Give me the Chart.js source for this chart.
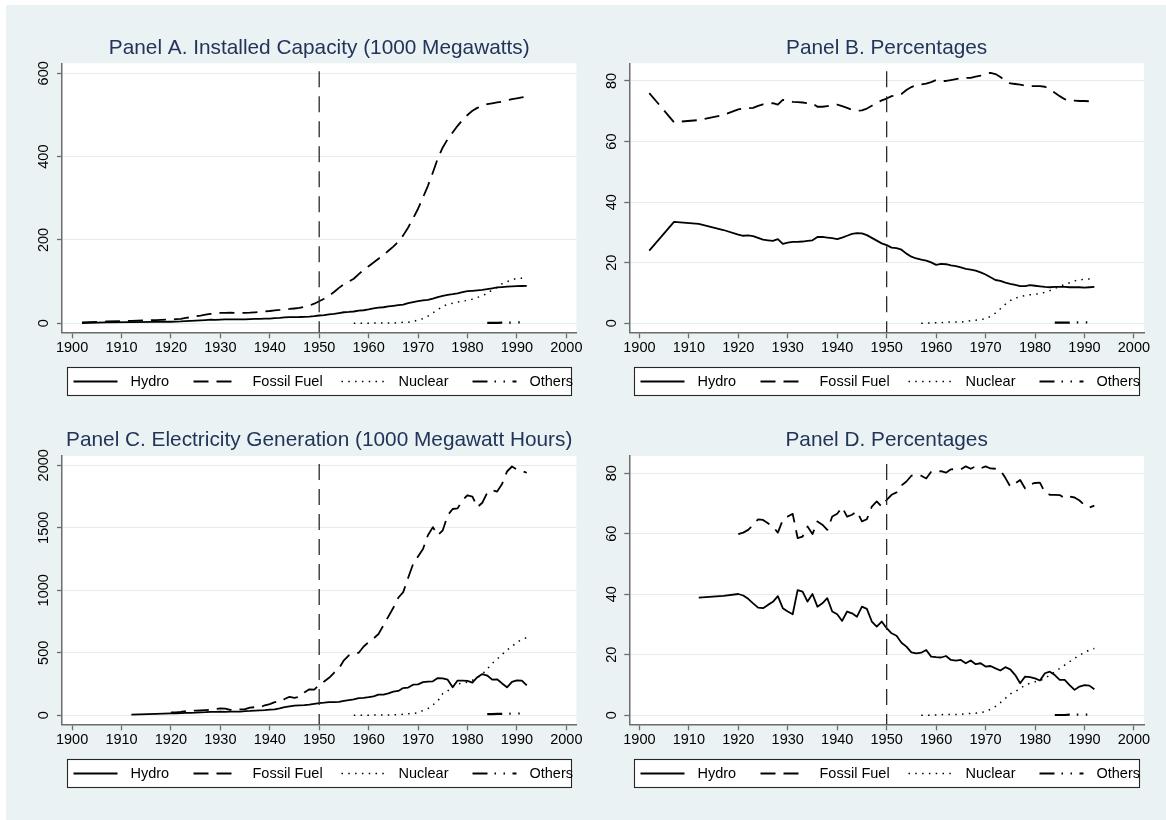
<!DOCTYPE html>
<html>
<head>
<meta charset="utf-8">
<title>Electricity capacity and generation</title>
<script src="https://cdn.jsdelivr.net/npm/chart.js@4.4.1/dist/chart.umd.min.js"></script>
<style>
  html, body { margin: 0; padding: 0; background: #ffffff; }
  #fundo { position: absolute; left: 6px; top: 5px; width: 1160px; height: 815px; background: #eaf2f3; }
  canvas { position: absolute; }
  #painelA { left: 6px; top: 5px; }
  #painelB { left: 583px; top: 5px; }
  #painelC { left: 6px; top: 410px; }
  #painelD { left: 583px; top: 410px; }
</style>
</head>
<body>
<div id="fundo"></div>
<canvas id="painelA" width="594" height="405"></canvas>
<canvas id="painelB" width="583" height="405"></canvas>
<canvas id="painelC" width="594" height="410"></canvas>
<canvas id="painelD" width="583" height="410"></canvas>
<script>
// ===============================
// 📅 ANOS
// ===============================
const anosAnuais = [
  1920, 1921, 1922, 1923, 1924, 1925, 1926, 1927, 1928, 1929,
  1930, 1931, 1932, 1933, 1934, 1935, 1936, 1937, 1938, 1939,
  1940, 1941, 1942, 1943, 1944, 1945, 1946, 1947, 1948, 1949,
  1950, 1951, 1952, 1953, 1954, 1955, 1956, 1957, 1958, 1959,
  1960, 1961, 1962, 1963, 1964, 1965, 1966, 1967, 1968, 1969,
  1970, 1971, 1972, 1973, 1974, 1975, 1976, 1977, 1978, 1979,
  1980, 1981, 1982, 1983, 1984, 1985, 1986, 1987, 1988, 1989,
  1990, 1991, 1992
];
const anosAB = [1902, 1907, 1912, 1917].concat(anosAnuais);
const anosHidroCD = [1912, 1917].concat(anosAnuais);
const anosNuclear = [
  1957, 1958, 1959, 1960, 1961, 1962, 1963, 1964, 1965, 1966,
  1967, 1968, 1969, 1970, 1971, 1972, 1973, 1974, 1975, 1976,
  1977, 1978, 1979, 1980, 1981, 1982, 1983, 1984, 1985, 1986,
  1987, 1988, 1989, 1990, 1991, 1992
];
const anosOutros = [1984, 1985, 1986, 1987, 1988, 1989, 1990, 1991, 1992];
const anoCorte = 1950;

// ===============================
// 🏷️ MARCAS E TEXTOS
// ===============================
const marcasX = [1900, 1910, 1920, 1930, 1940, 1950, 1960, 1970, 1980, 1990, 2000];
const marcasA = [0, 200, 400, 600];
const marcasB = [0, 20, 40, 60, 80];
const marcasC = [0, 500, 1000, 1500, 2000];
const marcasD = [0, 20, 40, 60, 80];
const rotulos = ["Hydro", "Fossil Fuel", "Nuclear", "Others"];

// ===============================
// ⚡ PAINEL A - CAPACIDADE (1000 MW)
// ===============================
const hidroA = [
  0.7, 2.2, 3.0, 3.5,
  3.7, 4.0, 4.4, 5.2, 5.7, 6.4, 7.0, 7.8, 8.7, 8.4,
  9.0, 9.3, 9.4, 9.3, 9.4, 9.5, 10.2, 10.5, 10.8, 11.0,
  11.3, 12.3, 13.0, 14.0, 14.6, 15.0, 15.1, 15.5, 16.0, 17.0,
  18.7, 19.6, 21.4, 22.5, 24.5, 26.5, 27.2, 28.3, 30.5, 31.3,
  33.3, 35.6, 37.4, 38.5, 40.4, 42.0, 43.4, 45.0, 48.5, 51.0,
  53.0, 55.0, 56.0, 59.0, 63.0, 66.0, 68.3, 70.0, 72.0, 75.0,
  77.0, 78.0, 79.0, 80.0, 82.0, 84.0, 86.0, 87.0, 88.0, 88.5,
  89.0, 89.5, 90.0
];
const fossilA = [
  2.2, 4.4, 6.0, 7.8,
  9.0, 9.8, 10.8, 12.8, 14.6, 16.8, 18.6, 20.8, 22.6, 23.8,
  24.8, 25.2, 25.5, 25.0, 25.1, 25.2, 25.5, 26.4, 27.4, 28.3,
  29.5, 31.0, 32.0, 33.6, 34.4, 35.5, 36.8, 39.7, 42.6, 47.0,
  53.0, 59.0, 66.0, 75.0, 85.0, 94.0, 100.0, 107.0, 118.0, 128.0,
  137.0, 146.0, 155.0, 164.0, 174.0, 184.0, 196.0, 211.0, 230.0, 252.0,
  275.0, 302.0, 330.0, 362.0, 396.0, 422.0, 442.0, 458.0, 474.0, 488.0,
  500.0, 510.0, 517.0, 522.0, 526.0, 528.0, 530.0, 532.0, 535.0, 538.0,
  540.0, 542.0, 544.0
];
const nuclearA = [
  0.1, 0.1, 0.2, 0.4, 0.4, 0.7, 0.8, 0.8, 0.8, 1.5,
  2.5, 2.8, 4.0, 8.0, 11.0, 17.0, 25.0, 33.0, 41.0, 45.0,
  48.0, 51.0, 53.0, 55.0, 58.0, 62.0, 66.0, 72.0, 80.0, 86.0,
  95.0, 100.0, 104.0, 108.0, 108.0, 108.0
];
const outrosA = [1.0, 1.1, 1.2, 1.4, 1.6, 1.8, 2.0, 2.2, 2.4];

// ===============================
// 📈 PAINEL B - PERCENTUAIS DA CAPACIDADE
// ===============================
const hidroB = [
  24.0, 33.5, 32.8, 30.8,
  29.3, 28.9, 29.0, 28.8, 28.2, 27.6, 27.4, 27.2, 27.8, 26.2,
  26.6, 26.9, 26.9, 27.0, 27.2, 27.4, 28.5, 28.5, 28.3, 28.1,
  27.8, 28.3, 28.9, 29.5, 29.8, 29.7, 29.1, 28.2, 27.3, 26.4,
  25.8, 25.0, 24.8, 24.3, 23.0, 22.0, 21.4, 21.0, 20.7, 20.1,
  19.3, 19.6, 19.5, 19.1, 18.9, 18.5, 18.0, 17.7, 17.4, 16.8,
  16.1, 15.2, 14.3, 14.0, 13.4, 13.0, 12.7, 12.3, 12.3, 12.6,
  12.4, 12.2, 12.0, 11.9, 12.0, 12.0, 12.0, 11.9, 11.9, 11.9,
  11.8, 11.9, 12.0
];
const fossilB = [
  76.0, 66.4, 67.1, 68.8,
  70.6, 71.0, 71.0, 71.1, 71.8, 72.3, 72.5, 72.7, 72.2, 73.8,
  73.4, 73.1, 73.0, 72.9, 72.7, 72.6, 71.5, 71.5, 71.7, 71.9,
  72.2, 71.7, 71.1, 70.5, 70.2, 70.3, 70.9, 71.8, 72.7, 73.6,
  74.2, 75.0, 75.2, 75.7, 77.0, 78.0, 78.6, 78.9, 79.1, 79.6,
  80.3, 80.0, 80.0, 80.3, 80.6, 80.9, 81.0, 81.0, 81.4, 81.8,
  82.3, 82.7, 82.3, 81.3, 80.2, 79.2, 79.0, 78.8, 78.5, 78.3,
  78.3, 78.3, 78.1, 77.3, 76.1, 75.0, 74.0, 73.5, 73.5, 73.4,
  73.4, 73.3, 73.3
];
const nuclearB = [
  0.0, 0.1, 0.1, 0.2, 0.2, 0.4, 0.4, 0.4, 0.4, 0.6,
  0.9, 1.0, 1.2, 1.5, 2.3, 3.4, 4.8, 6.3, 7.5, 8.3,
  8.8, 9.2, 9.4, 9.6, 9.8, 10.2, 10.8, 11.5, 12.2, 12.8,
  13.4, 14.0, 14.3, 14.6, 14.6, 14.7
];
const outrosB = [0.2, 0.2, 0.2, 0.2, 0.3, 0.3, 0.3, 0.3, 0.3];

// ===============================
// 🔌 PAINEL C - GERACAO (1000 MWh)
// ===============================
const hidroC = [
  5, 11,
  16, 15.5, 17.5, 19.5, 20, 21, 23, 25, 28, 28,
  28.5, 27, 30, 29, 29, 33, 35, 38, 40, 42,
  45, 48, 56, 66, 72, 78, 80, 82, 86, 92,
  98, 101, 105, 106, 108, 115, 122, 128, 138, 140,
  145, 152, 165, 165, 175, 190, 195, 218, 222, 245,
  247, 265, 270, 272, 298, 296, 285, 224, 278, 278,
  275, 262, 305, 330, 318, 285, 288, 255, 224, 268,
  280, 278, 240
];
const fossilC = [
  24, 24, 28, 33, 36, 38, 40, 42, 43, 51,
  55, 54, 43, 42, 48, 49, 62, 65, 63, 80,
  90, 105, 107, 130, 148, 140, 148, 183, 208, 205,
  243, 270, 300, 340, 375, 440, 480, 495, 500, 550,
  585, 615, 650, 720, 790, 860, 940, 985, 1100, 1210,
  1270, 1330, 1440, 1505, 1440, 1480, 1600, 1650, 1655, 1720,
  1760, 1750, 1665, 1700, 1780, 1800, 1790, 1850, 1950, 1990,
  1965, 1955, 1940
];
const nuclearC = [
  0.1, 0.2, 0.2, 0.5, 1.7, 2.3, 3.2, 3.3, 3.7, 5.5,
  7.7, 12.5, 13.9, 21.8, 38, 54, 83, 114, 173, 195,
  230, 250, 258, 265, 280, 300, 330, 370, 415, 450,
  485, 523, 550, 585, 605, 622
];
const outrosC = [9, 10, 11, 11, 12, 13, 14, 15, 16];

// ===============================
// 📉 PAINEL D - PERCENTUAIS DA GERACAO
// ===============================
const hidroD = [
  38.9, 39.5,
  40.1, 39.6, 38.5, 37.0, 35.6, 35.4, 36.5, 37.5, 39.4, 35.4,
  34.3, 33.4, 41.4, 40.9, 37.6, 40.1, 35.9, 37.0, 38.7, 34.3,
  33.4, 31.2, 34.3, 33.7, 32.6, 35.9, 35.2, 31.0, 29.3, 31.0,
  28.8, 27.1, 26.3, 24.0, 22.7, 20.8, 20.5, 20.7, 21.6, 19.4,
  19.2, 19.1, 19.6, 18.3, 18.1, 18.3, 17.2, 18.1, 16.9, 17.2,
  16.1, 16.3, 15.5, 14.8, 15.9, 15.2, 13.3, 10.6, 12.8, 12.6,
  12.2, 11.5, 13.9, 14.4, 13.3, 11.7, 11.7, 10.0, 8.4, 9.5,
  10.0, 9.8, 8.6
];
const fossilD = [
  59.9, 60.4, 61.3, 62.9, 64.8, 64.6, 63.5, 62.4, 60.4, 64.6,
  65.7, 66.6, 58.6, 59.1, 62.4, 59.9, 64.1, 63.0, 61.3, 65.7,
  66.6, 68.8, 65.7, 66.3, 67.4, 64.1, 64.8, 69.0, 70.7, 69.0,
  71.2, 72.9, 73.7, 76.0, 77.3, 79.2, 79.5, 79.2, 78.3, 80.5,
  80.6, 80.7, 80.2, 81.3, 81.4, 81.3, 82.3, 81.5, 82.3, 81.6,
  82.3, 81.6, 81.5, 81.0, 78.5, 75.6, 76.7, 77.8, 75.0, 76.3,
  76.8, 76.9, 73.7, 72.9, 72.9, 72.8, 71.7, 72.3, 72.0, 71.0,
  69.5, 68.7, 69.3
];
const nuclearD = [
  0.0, 0.0, 0.0, 0.1, 0.2, 0.3, 0.3, 0.3, 0.3, 0.5,
  0.6, 0.7, 0.9, 1.2, 2.0, 2.9, 4.2, 5.6, 7.1, 7.8,
  8.9, 10.0, 10.6, 11.1, 11.5, 12.2, 13.3, 14.4, 15.5, 16.6,
  17.7, 18.8, 19.9, 20.7, 21.6, 22.1
];
const outrosD = [0.1, 0.1, 0.1, 0.2, 0.2, 0.2, 0.2, 0.2, 0.2];

// ===============================
// 🎨 ESTILOS
// ===============================
const fonte = '"Liberation Sans", Arial, Helvetica, sans-serif';
const corEixo = "#6c6c6c";
const corGrade = "#e3ecef";
const corTitulo = "#22345a";

const estilos = [
  { borderDash: [], borderWidth: 1.8 },
  { borderDash: [15, 8], borderWidth: 1.8 },
  { borderDash: [1.5, 5.3], borderWidth: 1.5 },
  { borderDash: [15, 7, 1.5, 7.5, 1.5, 7.5], borderWidth: 2.2 }
];

// posicao das chaves e textos dentro da caixa de legenda
const legendaChaveX = [6, 126, 274, 405];
const legendaTextoX = [63, 185, 331, 462];

Chart.defaults.font.family = fonte;

function pontos(anos, valores) {
  return anos.map((ano, i) => ({ x: ano, y: valores[i] }));
}

// sem separador de milhar (1900, 2000)
function numeroSimples(valor) {
  return String(valor);
}

// ===============================
// 🖼️ PLUGIN: FUNDO, LINHA 1950, TITULO E LEGENDA
// ===============================
function criarMoldura(titulo) {
  return {
    id: "moldura",
    beforeDraw(chart) {
      const a = chart.chartArea;
      const ctx = chart.ctx;
      ctx.save();
      ctx.fillStyle = "#ffffff";
      ctx.fillRect(a.left, a.top, a.right - a.left, a.bottom - a.top);
      ctx.restore();
    },
    afterDatasetsDraw(chart) {
      const a = chart.chartArea;
      const ctx = chart.ctx;
      const x = chart.scales.x.getPixelForValue(anoCorte);
      ctx.save();
      ctx.strokeStyle = "#2a2a2a";
      ctx.lineWidth = 1.3;
      ctx.setLineDash([16, 9]);
      ctx.lineDashOffset = 17;
      ctx.beginPath();
      ctx.moveTo(x, a.top);
      ctx.lineTo(x, a.bottom);
      ctx.stroke();
      ctx.restore();
    },
    afterDraw(chart) {
      const a = chart.chartArea;
      const ctx = chart.ctx;
      ctx.save();

      // titulo
      ctx.fillStyle = corTitulo;
      ctx.font = "20.8px " + fonte;
      ctx.textAlign = "center";
      ctx.textBaseline = "middle";
      ctx.fillText(titulo, (a.left + a.right) / 2, a.top - 15.5);

      // caixa da legenda
      const x0 = Math.round(a.left + 5) + 0.5;
      const x1 = Math.round(a.right - 5) + 0.5;
      const y0 = Math.round(a.bottom + 34.5) + 0.5;
      const h = 28;
      const yMeio = y0 + h / 2;
      ctx.fillStyle = "#ffffff";
      ctx.fillRect(x0, y0, x1 - x0, h);
      ctx.strokeStyle = "#262626";
      ctx.lineWidth = 1.1;
      ctx.strokeRect(x0, y0, x1 - x0, h);

      chart.data.datasets.forEach((ds, i) => {
        const xc = x0 + legendaChaveX[i];
        ctx.strokeStyle = "#000000";
        ctx.lineWidth = ds.borderWidth;
        ctx.setLineDash(ds.borderDash);
        ctx.beginPath();
        ctx.moveTo(xc, yMeio);
        ctx.lineTo(xc + 44, yMeio);
        ctx.stroke();
        ctx.setLineDash([]);

        ctx.fillStyle = "#000000";
        ctx.font = "14.5px " + fonte;
        ctx.textAlign = "left";
        ctx.textBaseline = "middle";
        ctx.fillText(ds.label, x0 + legendaTextoX[i], yMeio + 0.5);
      });
      ctx.restore();
    }
  };
}

// ===============================
// 📊 CRIAR PAINEL
// ===============================
function criarPainel(cfg) {
  const datasets = cfg.series.map((serie, i) => ({
    label: rotulos[i],
    data: pontos(serie.anos, serie.valores),
    borderColor: "#000000",
    borderWidth: estilos[i].borderWidth,
    borderDash: estilos[i].borderDash,
    borderCapStyle: "butt",
    borderJoinStyle: "round",
    pointRadius: 0,
    fill: false,
    tension: 0
  }));

  new Chart(document.getElementById(cfg.id), {
    type: "line",
    data: { datasets },
    options: {
      responsive: false,
      animation: false,
      events: [],
      layout: { padding: { top: cfg.topo, right: cfg.direita, bottom: cfg.baixo, left: 0 } },
      plugins: {
        legend: { display: false },
        tooltip: { enabled: false },
        title: { display: false }
      },
      scales: {
        x: {
          type: "linear",
          min: 1897.96,
          max: 2002.04,
          afterBuildTicks: (s) => { s.ticks = marcasX.map((v) => ({ value: v })); },
          afterFit: (s) => { s.height = 30; },
          grid: { drawOnChartArea: false, drawTicks: true, tickLength: 6, tickWidth: 1.3, tickColor: corEixo },
          border: { display: true, color: corEixo, width: 1.5 },
          ticks: { autoSkip: false, maxRotation: 0, minRotation: 0, padding: 1, color: "#000000", font: { size: 14.5 }, callback: numeroSimples }
        },
        y: {
          type: "linear",
          min: cfg.yMin,
          max: cfg.yMax,
          afterBuildTicks: (s) => { s.ticks = cfg.marcasY.map((v) => ({ value: v })); },
          afterFit: (s) => { s.width = cfg.larguraY; },
          grid: { color: corGrade, lineWidth: 1, drawTicks: true, tickLength: 5, tickWidth: 1.3, tickColor: corEixo },
          border: { display: true, color: corEixo, width: 1.5 },
          ticks: { autoSkip: false, minRotation: 90, maxRotation: 90, crossAlign: "center", padding: cfg.padY, color: "#000000", font: { size: 14.5 }, callback: numeroSimples }
        }
      }
    },
    plugins: [criarMoldura(cfg.titulo)]
  });
}

// ===============================
// 🚀 INICIAR
// ===============================
criarPainel({
  id: "painelA",
  titulo: "Panel A. Installed Capacity (1000 Megawatts)",
  series: [
    { anos: anosAB, valores: hidroA },
    { anos: anosAB, valores: fossilA },
    { anos: anosNuclear, valores: nuclearA },
    { anos: anosOutros, valores: outrosA }
  ],
  yMin: -21.6, yMax: 624, marcasY: marcasA,
  larguraY: 56, padY: 1.4, topo: 58.3, direita: 23.6, baixo: 47.7
});

criarPainel({
  id: "painelB",
  titulo: "Panel B. Percentages",
  series: [
    { anos: anosAB, valores: hidroB },
    { anos: anosAB, valores: fossilB },
    { anos: anosNuclear, valores: nuclearB },
    { anos: anosOutros, valores: outrosB }
  ],
  yMin: -2.97, yMax: 85.84, marcasY: marcasB,
  larguraY: 46.3, padY: 4.2, topo: 58.3, direita: 22, baixo: 47.7
});

criarPainel({
  id: "painelC",
  titulo: "Panel C. Electricity Generation (1000 Megawatt Hours)",
  series: [
    { anos: anosHidroCD, valores: hidroC },
    { anos: anosAnuais, valores: fossilC },
    { anos: anosNuclear, valores: nuclearC },
    { anos: anosOutros, valores: outrosC }
  ],
  yMin: -72, yMax: 2074, marcasY: marcasC,
  larguraY: 56, padY: -3.4, topo: 46, direita: 23.6, baixo: 65.7
});

criarPainel({
  id: "painelD",
  titulo: "Panel D. Percentages",
  series: [
    { anos: anosHidroCD, valores: hidroD },
    { anos: anosAnuais, valores: fossilD },
    { anos: anosNuclear, valores: nuclearD },
    { anos: anosOutros, valores: outrosD }
  ],
  yMin: -2.98, yMax: 85.72, marcasY: marcasD,
  larguraY: 46.3, padY: 4.2, topo: 46, direita: 22, baixo: 65.7
});
</script>
</body>
</html>
